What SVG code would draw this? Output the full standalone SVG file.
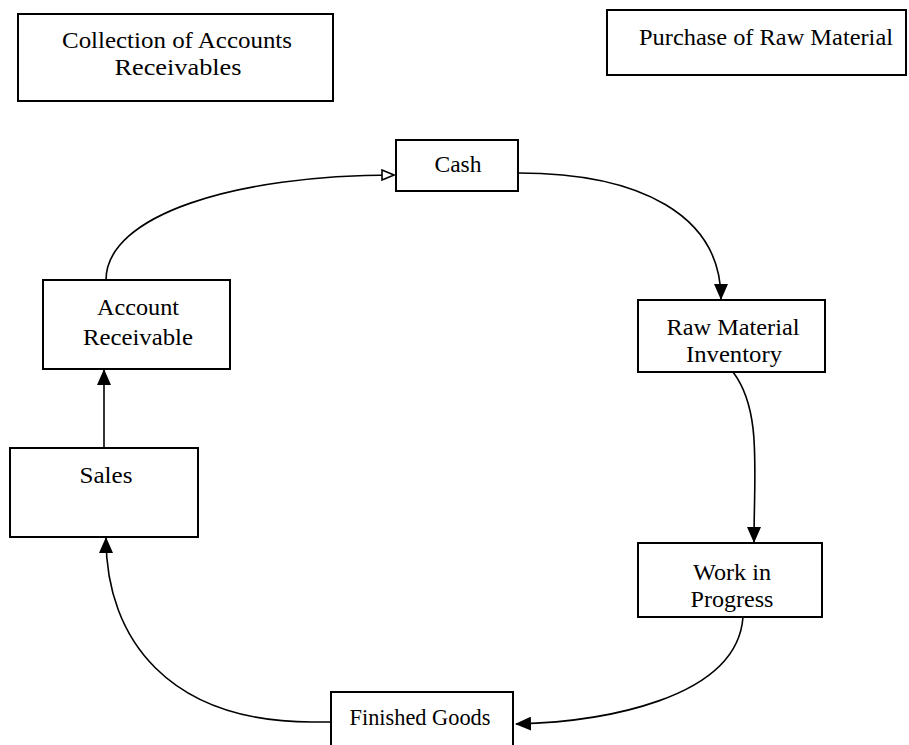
<svg xmlns="http://www.w3.org/2000/svg" width="909" height="745" viewBox="0 0 909 745">
  <defs>
    <style>
      .box { fill: #ffffff; stroke: #000000; stroke-width: 2; }
      .lbl { font-family: "Liberation Serif", "Times New Roman", serif; font-size: 24px; fill: #000000; text-anchor: middle; }
      .edge { fill: none; stroke: #000000; stroke-width: 1.6; }
    </style>
    <marker id="arrowFilled" viewBox="0 0 16 14" refX="15" refY="7" markerWidth="16" markerHeight="14" markerUnits="userSpaceOnUse" orient="auto">
      <path d="M0,0 L16,7 L0,14 Z" fill="#000000"/>
    </marker>
    <marker id="arrowOpen" viewBox="0 0 14 12" refX="13" refY="6" markerWidth="14" markerHeight="12" markerUnits="userSpaceOnUse" orient="auto">
      <path d="M1,1 L13,6 L1,11 Z" fill="#ffffff" stroke="#000000" stroke-width="1.6"/>
    </marker>
  </defs>
  <rect width="909" height="745" fill="#ffffff"/>

  <!-- connectors of the cycle -->
  <g id="connectors">
    <path class="edge" d="M106,280 C106,215 235,175 394,175" marker-end="url(#arrowOpen)"/>
    <path class="edge" d="M518,173 C640,173 721,215 721,299" marker-end="url(#arrowFilled)"/>
    <path class="edge" d="M733,372 C762,410 754,470 754,542" marker-end="url(#arrowFilled)"/>
    <path class="edge" d="M743,617 C737,700 600,722 516,724" marker-end="url(#arrowFilled)"/>
    <path class="edge" d="M331,722 L312,722 C170,722 106,640 106,538" marker-end="url(#arrowFilled)"/>
    <path class="edge" d="M104,448 L104,370" stroke-width="2" marker-end="url(#arrowFilled)"/>
  </g>

  <g id="collection">
    <rect class="box" x="18" y="14" width="315" height="87"/>
    <text class="lbl" x="177" y="48" textLength="230" lengthAdjust="spacingAndGlyphs">Collection of Accounts</text>
    <text class="lbl" x="178" y="75" textLength="127" lengthAdjust="spacingAndGlyphs">Receivables</text>
  </g>

  <g id="purchase">
    <rect class="box" x="607" y="10" width="299" height="65"/>
    <text class="lbl" x="766" y="45" textLength="254" lengthAdjust="spacingAndGlyphs">Purchase of Raw Material</text>
  </g>

  <g id="cash">
    <rect class="box" x="396" y="140" width="122" height="51"/>
    <text class="lbl" x="458" y="172" textLength="47" lengthAdjust="spacingAndGlyphs">Cash</text>
  </g>

  <g id="account-receivable">
    <rect class="box" x="43" y="280" width="187" height="89"/>
    <text class="lbl" x="138" y="315" textLength="82" lengthAdjust="spacingAndGlyphs">Account</text>
    <text class="lbl" x="138" y="345" textLength="110" lengthAdjust="spacingAndGlyphs">Receivable</text>
  </g>

  <g id="raw-material">
    <rect class="box" x="638" y="300" width="187" height="72"/>
    <text class="lbl" x="733" y="335" textLength="133" lengthAdjust="spacingAndGlyphs">Raw Material</text>
    <text class="lbl" x="734" y="362" textLength="96" lengthAdjust="spacingAndGlyphs">Inventory</text>
  </g>

  <g id="sales">
    <rect class="box" x="10" y="448" width="188" height="89"/>
    <text class="lbl" x="106" y="483" textLength="53" lengthAdjust="spacingAndGlyphs">Sales</text>
  </g>

  <g id="work-in-progress">
    <rect class="box" x="638" y="543" width="184" height="74"/>
    <text class="lbl" x="732" y="580" textLength="78" lengthAdjust="spacingAndGlyphs">Work in</text>
    <text class="lbl" x="732" y="607" textLength="83" lengthAdjust="spacingAndGlyphs">Progress</text>
  </g>

  <g id="finished-goods">
    <rect class="box" x="331" y="692" width="182" height="60"/>
    <text class="lbl" x="420" y="725" textLength="141" lengthAdjust="spacingAndGlyphs">Finished Goods</text>
  </g>
</svg>
